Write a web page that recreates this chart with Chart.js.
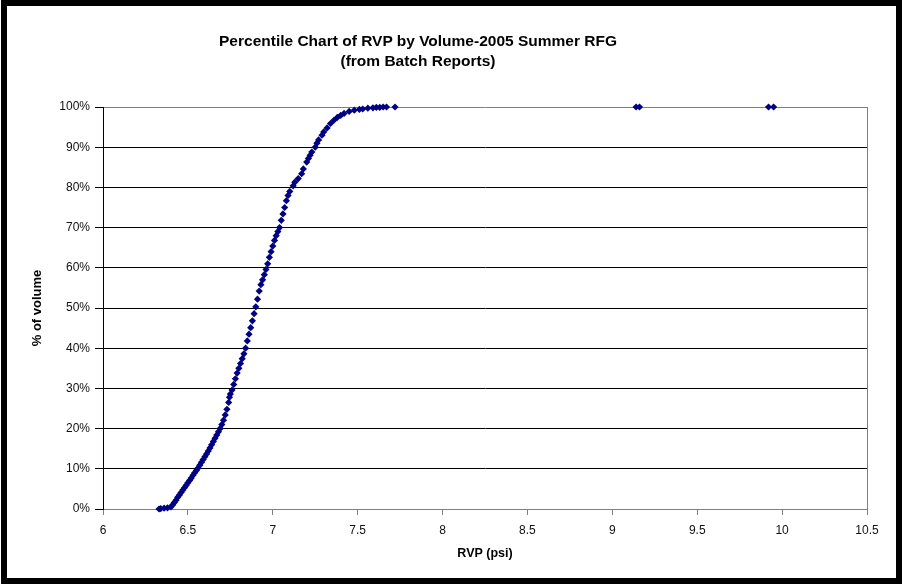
<!DOCTYPE html>
<html>
<head>
<meta charset="utf-8">
<script src="https://cdn.jsdelivr.net/npm/chart.js@4.4.1/dist/chart.umd.min.js"></script>
<style>
html, body { margin: 0; padding: 0; background: #fff; }
#wrap { position: relative; width: 902px; height: 587px; overflow: hidden; }
#frame { position: absolute; left: 1px; top: 0; width: 889px; height: 572px; border: 6px solid #000; pointer-events: none; }
#title { position: absolute; left: 0; top: 31px; width: 836px; text-align: center;
         font: bold 15.5px/20px "Liberation Sans", Arial, sans-serif; color: #000; }
canvas { position: absolute; left: 0; top: 0; }
</style>
</head>
<body>
<div id="wrap">
  <canvas id="rvpChart" width="902" height="587"></canvas>
  <div id="title"></div>
  <div id="frame"></div>
</div>
<script>
/* RVP (psi) of each batch point, and cumulative % of volume */
const rvp = [
  6.33, 6.34, 6.36, 6.38, 6.40, 6.41, 6.42, 6.43, 6.44, 6.45,
  6.46, 6.47, 6.48, 6.49, 6.50, 6.51, 6.52, 6.53, 6.54, 6.55,
  6.56, 6.57, 6.58, 6.59, 6.60, 6.61, 6.62, 6.63, 6.64, 6.65,
  6.66, 6.67, 6.68, 6.69, 6.70, 6.71, 6.72, 6.73, 6.74, 6.745,
  6.75, 6.76, 6.77, 6.78, 6.79, 6.80, 6.81, 6.82, 6.83, 6.84,
  6.85, 6.86, 6.87, 6.88, 6.89, 6.90, 6.91, 6.92, 6.93, 6.94,
  6.95, 6.96, 6.97, 6.98, 6.99, 7.00, 7.01, 7.02, 7.03, 7.04,
  7.05, 7.06, 7.07, 7.08, 7.09, 7.10, 7.12, 7.13, 7.15, 7.17,
  7.18, 7.20, 7.21, 7.22, 7.23, 7.25, 7.26, 7.27, 7.29, 7.30,
  7.32, 7.34, 7.36, 7.38, 7.40, 7.42, 7.45, 7.48, 7.51, 7.53,
  7.56, 7.59, 7.61, 7.63, 7.65, 7.67, 7.72, 9.14, 9.16, 9.92,
  9.95
];
const pctVolume = [
  0.0, 0.1, 0.2, 0.3, 0.5, 1.0, 1.6, 2.2, 2.9, 3.5,
  4.1, 4.7, 5.3, 5.9, 6.5, 7.1, 7.7, 8.4, 9.0, 9.6,
  10.2, 10.9, 11.6, 12.3, 13.0, 13.7, 14.4, 15.2, 16.0, 16.8,
  17.6, 18.4, 19.2, 20.0, 21.0, 22.1, 23.4, 24.8, 26.5, 27.8,
  28.6, 29.6, 31.0, 32.4, 33.8, 35.0, 36.2, 37.4, 38.6, 40.0,
  41.8, 43.5, 45.1, 46.8, 48.6, 50.3, 52.2, 54.2, 55.8, 57.0,
  58.3, 59.6, 61.0, 62.6, 64.0, 65.4, 66.8, 68.0, 69.0, 70.0,
  71.8, 73.4, 75.0, 76.7, 78.0, 79.0, 80.4, 81.3, 82.2, 83.4,
  84.6, 86.3, 87.2, 88.0, 88.8, 90.0, 91.0, 91.8, 93.0, 93.8,
  94.8, 95.9, 96.7, 97.4, 97.9, 98.4, 98.9, 99.2, 99.4, 99.5,
  99.7, 99.8, 99.9, 99.9, 100, 100, 100, 100, 100, 100,
  100
];

const titleLines = ['Percentile Chart of RVP by Volume-2005 Summer RFG', '(from Batch Reports)'];
const xRange = [6, 10.5, 0.5];   /* min, max, step */
const yRange = [0, 100, 10];

const FONT = '"Liberation Sans", Arial, sans-serif';

/* title sits a little left of centre, as in the source sheet */
document.getElementById('title').innerHTML = titleLines.join('<br>');

/* gray right edge of the plot area */
const plotEdge = {
    id: 'plotEdge',
    beforeDatasetsDraw(chart) {
        const { ctx, chartArea: a } = chart;
        const x = Math.round(a.right) + 0.5;
        ctx.save();
        ctx.strokeStyle = '#808080';
        ctx.lineWidth = 1;
        ctx.beginPath();
        ctx.moveTo(x, a.top);
        ctx.lineTo(x, a.bottom);
        ctx.stroke();
        ctx.restore();
    }
};

new Chart(document.getElementById('rvpChart'), {
    type: 'scatter',
    data: {
        datasets: [{
            data: rvp.map((v, i) => ({ x: v, y: pctVolume[i] })),
            pointStyle: 'rectRot',
            pointRadius: 3.6,
            borderWidth: 0,
            backgroundColor: '#000080',
            borderColor: '#000080',
            clip: false,
        }],
    },
    options: {
        responsive: false,
        animation: false,
        layout: { padding: { left: 0, right: 35, top: 107, bottom: 0 } },
        plugins: {
            legend: { display: false },
            tooltip: { enabled: false },
            title: { display: false },
        },
        scales: {
            x: {
                type: 'linear',
                min: xRange[0],
                max: xRange[1],
                afterFit: s => { s.height = 78; },
                ticks: {
                    stepSize: xRange[2],
                    color: '#111',
                    padding: 8,
                    font: { family: FONT, size: 12 },
                    callback: v => String(v),
                },
                grid: { drawOnChartArea: false, drawTicks: true, tickLength: 6, tickColor: '#808080' },
                border: { color: '#808080', width: 1 },
                title: {
                    display: true,
                    text: 'RVP (psi)',
                    color: '#000',
                    font: { family: FONT, size: 12.5, weight: 'bold' },
                    padding: { top: 0, bottom: 26 },
                },
            },
            y: {
                min: yRange[0],
                max: yRange[1],
                afterFit: s => { s.width = 103; },
                ticks: {
                    stepSize: yRange[2],
                    color: '#111',
                    padding: 5,
                    font: { family: FONT, size: 12 },
                    callback: v => v + '%',
                },
                grid: {
                    color: c => (c.tick && (c.tick.value === 0 || c.tick.value === 100)) ? '#808080' : '#000',
                    tickColor: '#000',
                    tickLength: 8,
                },
                border: { color: '#000', width: 1 },
                title: {
                    display: true,
                    text: '% of volume',
                    color: '#000',
                    font: { family: FONT, size: 13, weight: 'bold' },
                    padding: { top: 30, bottom: 0 },
                },
            },
        },
    },
    plugins: [plotEdge],
});
</script>
</body>
</html>
